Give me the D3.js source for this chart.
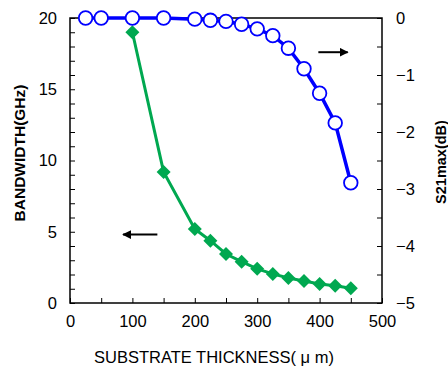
<!DOCTYPE html>
<html>
<head>
<meta charset="utf-8">
<script src="https://cdn.jsdelivr.net/npm/d3@7"></script>
<style>
  body { margin: 0; background: #fff; }
  text { font-family: "Liberation Sans", Arial, sans-serif; }
</style>
</head>
<body>
<div id="chart"></div>
<script>
// thickness values (um)
const lossThickness = [25, 50, 100, 150, 200, 225, 250, 275, 300, 325, 350, 375, 400, 425, 450];
const s21max = [0, 0, 0, 0, -0.02, -0.04, -0.06, -0.11, -0.19, -0.31, -0.53, -0.89, -1.32, -1.84, -2.89];
const bwThickness = [100, 150, 200, 225, 250, 275, 300, 325, 350, 375, 400, 425, 450];
const bandwidth = [19.0, 9.2, 5.2, 4.37, 3.44, 2.9, 2.4, 2.04, 1.75, 1.54, 1.33, 1.21, 1.03];
const xTicks = [0, 100, 200, 300, 400, 500];
const yLeftTicks = [0, 5, 10, 15, 20];
const yRightTicks = [0, -1, -2, -3, -4, -5];

const svgWidth = 448, svgHeight = 367;
const margin = {top: 18, right: 66, bottom: 64, left: 70};
const width = svgWidth - margin.left - margin.right;
const height = svgHeight - margin.top - margin.bottom;

const svg = d3.select('#chart').append('svg')
  .attr('width', svgWidth)
  .attr('height', svgHeight);

const g = svg.append('g')
  .attr('transform', `translate(${margin.left},${margin.top})`);

const x = d3.scaleLinear().domain([0, 500]).range([0, width]);
const yL = d3.scaleLinear().domain([0, 20]).range([height, 0]);
const yR = d3.scaleLinear().domain([-5, 0]).range([height, 0]);

// minor inward ticks
const minor = (axis, vals) => axis.tickValues(vals).tickSize(-5).tickFormat('');
g.append('g').attr('class', 'tick-minor')
  .attr('transform', `translate(0,${height})`)
  .call(minor(d3.axisBottom(x), d3.range(0, 501, 50)));
g.append('g').attr('class', 'tick-minor')
  .call(minor(d3.axisLeft(yL), d3.range(0, 21, 1)));
g.append('g').attr('class', 'tick-minor')
  .attr('transform', `translate(${width},0)`)
  .call(minor(d3.axisRight(yR), d3.range(-5, 0.01, 0.5)));

// labels
g.append('g').attr('class', 'tick-lab')
  .attr('transform', `translate(0,${height})`)
  .call(d3.axisBottom(x).tickValues(xTicks).tickSize(0).tickPadding(12));
g.append('g').attr('class', 'tick-lab')
  .call(d3.axisLeft(yL).tickValues(yLeftTicks).tickSize(0).tickPadding(13));
g.append('g').attr('class', 'tick-lab')
  .attr('transform', `translate(${width},0)`)
  .call(d3.axisRight(yR).tickValues(yRightTicks).tickSize(0).tickPadding(14)
    .tickFormat(d => d < 0 ? '\u2212' + Math.abs(d) : d));

g.selectAll('.domain').remove();
g.selectAll('.tick-minor line').attr('stroke', '#000').attr('stroke-width', 1);
g.selectAll('.tick-lab text').attr('font-size', 16.5).attr('fill', '#000')
  .attr('font-family', '"Liberation Sans", Arial, sans-serif');

// frame
g.append('rect')
  .attr('width', width).attr('height', height)
  .attr('fill', 'none').attr('stroke', '#000').attr('stroke-width', 1.5);

// green bandwidth line
const bw = bwThickness.map((t, i) => [t, bandwidth[i]]);
g.append('path')
  .datum(bw)
  .attr('fill', 'none').attr('stroke', '#00a850').attr('stroke-width', 3)
  .attr('d', d3.line().x(d => x(d[0])).y(d => yL(d[1])));
g.selectAll('.diamond').data(bw).enter().append('path')
  .attr('class', 'diamond')
  .attr('d', d3.symbol().type(d3.symbolSquare).size(98))
  .attr('transform', d => `translate(${x(d[0])},${yL(d[1])}) rotate(45)`)
  .attr('fill', '#00a850');

// blue s21 line
const s21 = lossThickness.map((t, i) => [t, s21max[i]]);
g.append('path')
  .datum(s21)
  .attr('fill', 'none').attr('stroke', '#0000ff').attr('stroke-width', 3.5)
  .attr('d', d3.line().x(d => x(d[0])).y(d => yR(d[1])));
g.selectAll('.circ').data(s21).enter().append('circle')
  .attr('class', 'circ')
  .attr('cx', d => x(d[0])).attr('cy', d => yR(d[1]))
  .attr('r', 6.8)
  .attr('fill', '#fff').attr('stroke', '#0000ff').attr('stroke-width', 1.8);

// arrows
const defs = svg.append('defs');
defs.append('marker')
  .attr('id', 'head').attr('viewBox', '0 0 10 10')
  .attr('refX', 9).attr('refY', 5)
  .attr('markerWidth', 4.5).attr('markerHeight', 4.5)
  .attr('markerUnits', 'strokeWidth')
  .attr('orient', 'auto')
  .append('path').attr('d', 'M0,0 L10,5 L0,10 z').attr('fill', '#000');

g.append('line')
  .attr('x1', x(398)).attr('x2', x(445))
  .attr('y1', yR(-0.6)).attr('y2', yR(-0.6))
  .attr('stroke', '#000').attr('stroke-width', 2)
  .attr('marker-end', 'url(#head)');
g.append('line')
  .attr('x1', x(140)).attr('x2', x(85))
  .attr('y1', yL(4.8)).attr('y2', yL(4.8))
  .attr('stroke', '#000').attr('stroke-width', 2)
  .attr('marker-end', 'url(#head)');

// axis titles
svg.append('text')
  .attr('transform', 'translate(25,153) rotate(-90)')
  .attr('text-anchor', 'middle')
  .attr('font-size', 15.5).attr('font-weight', 'bold')
  .text('BANDWIDTH(GHz)');
svg.append('text')
  .attr('transform', 'translate(446,162) rotate(-90)')
  .attr('text-anchor', 'middle')
  .attr('font-size', 14.5).attr('font-weight', 'bold')
  .text('S21max(dB)');
svg.append('text')
  .attr('x', 214).attr('y', 363)
  .attr('text-anchor', 'middle')
  .attr('font-size', 16.5)
  .text('SUBSTRATE THICKNESS( \u03bc m)');
</script>
</body>
</html>
